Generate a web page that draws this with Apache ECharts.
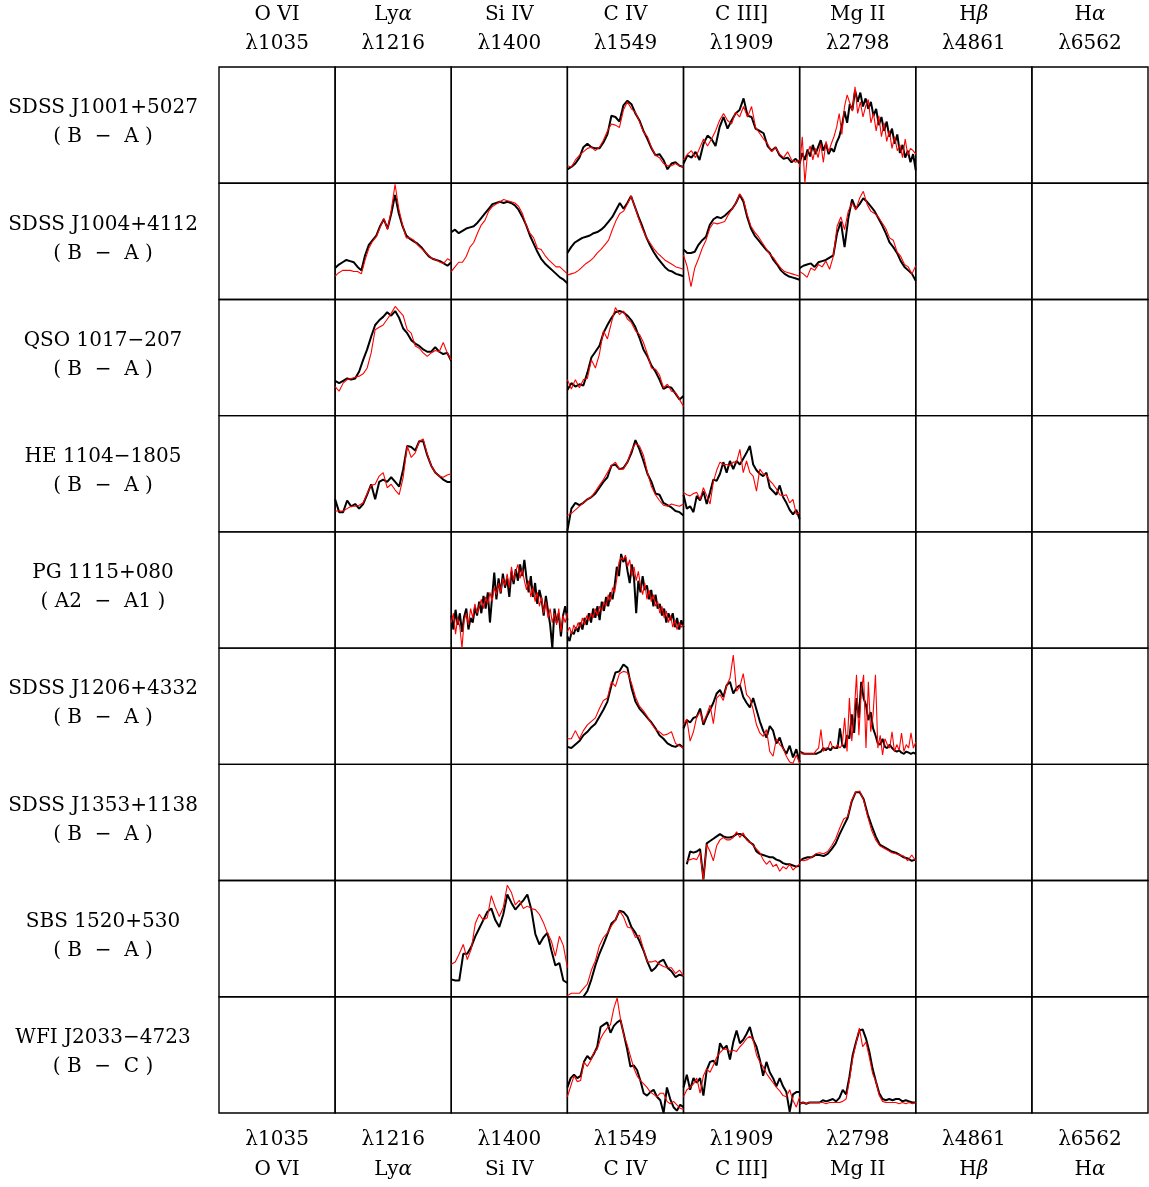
<!DOCTYPE html>
<html>
<head>
<meta charset="utf-8">
<title>Line profiles of lensed quasar images</title>
<script src="https://cdn.jsdelivr.net/npm/echarts@6/dist/echarts.min.js"></script>
<style>
html, body { margin: 0; padding: 0; background: #fff; }
#box { width: 1149px; height: 1187px; }
</style>
</head>
<body>
<div id="box"></div>
<script>
// columns: emission lines
var lineNames = ['O VI', 'Ly{g|α}', 'Si IV', 'C IV', 'C III]', 'Mg II', 'H{g|β}', 'H{g|α}'];
var lineWaves = ['λ1035', 'λ1216', 'λ1400', 'λ1549', 'λ1909', 'λ2798', 'λ4861', 'λ6562'];
// rows: lens systems and image pairs
var objects = ['SDSS J1001+5027', 'SDSS J1004+4112', 'QSO 1017−207', 'HE 1104−1805', 'PG 1115+080',
  'SDSS J1206+4332', 'SDSS J1353+1138', 'SBS 1520+530', 'WFI J2033−4723'];
var pairs = ['( B  −  A )', '( B  −  A )', '( B  −  A )', '( B  −  A )', '( A2  −  A1 )',
  '( B  −  A )', '( B  −  A )', '( B  −  A )', '( B  −  C )'];

// line profiles, flux as % of panel height (b = first image, r = second image)
var j1001_civ_b = [12,14,17,22,31,34,31,30,30,35,42,58,57,53,67,71,68,60,54,45,38,30,24,25,20,12,17,18,15,14];
var j1001_civ_r = [15,14,20,24,27,30,31,28,31,37,45,51,50,48,63,70,64,61,53,44,40,31,24,22,17,15,15,17,15,14];
var j1001_ciii_b = [17,24,22,27,20,34,41,38,32,48,57,47,54,60,63,73,58,57,47,45,43,32,28,31,24,21,22,18,21,17];
var j1001_ciii_r = [20,25,28,22,30,38,32,38,45,54,60,54,51,61,57,66,57,66,48,43,38,34,27,31,25,22,27,20,18,20];
var j1001_mgii_b = [17,26,20,29,23,33,25,31,37,28,34,25,30,27,35,40,49,62,52,68,63,80,70,78,66,73,64,70,58,64,50,57,45,53,40,47,34,42,26,33,22,28,18,25,11];
var j1001_mgii_r = [14,40,0,26,32,20,30,22,34,18,36,27,34,40,48,60,42,66,76,69,62,83,60,70,57,66,72,52,60,45,58,40,52,36,45,30,40,28,33,22,38,24,30,28,25];

var j1004_lya_b = [27,30,32,34,33,32,28,25,38,47,51,55,63,69,61,74,90,74,63,55,52,50,48,45,41,37,35,34,33,31,29,32];
var j1004_lya_r = [20,23,25,25,25,24,24,22,34,44,50,54,62,70,60,77,99,78,64,53,53,51,47,44,41,38,35,34,32,31,35,33];
var j1004_siiv_b = [58,60,57,59,61,62,63,66,70,74,78,82,83,84,83,84,83,81,77,71,64,55,48,41,35,31,28,25,22,19,17,14];
var j1004_siiv_r = [24,28,32,32,37,45,49,57,64,68,76,80,82,84,86,85,84,83,80,74,64,57,53,44,43,38,34,31,28,28,25,22];
var j1004_civ_b = [40,45,49,51,53,54,55,57,58,60,63,67,71,77,83,78,83,89,80,71,63,54,47,41,36,32,28,25,24,22,21,20];
var j1004_civ_r = [21,22,23,25,28,31,33,36,40,43,47,51,60,68,74,76,82,89,80,70,61,54,49,44,40,37,34,32,30,28,27,26];
var j1004_ciii_b = [43,40,40,41,47,51,54,64,69,71,70,72,75,78,83,90,84,71,61,55,51,47,43,40,34,30,25,22,20,19,18,17];
var j1004_ciii_r = [38,28,11,27,35,44,51,61,66,65,66,67,73,78,83,91,86,73,63,58,54,49,44,39,36,31,27,24,23,22,21,20];
var j1004_mgii_b = [27,29,30,31,28,32,33,34,36,38,57,67,45,70,86,78,82,87,84,80,76,70,64,57,49,45,40,33,28,25,22,16];
var j1004_mgii_r = [24,22,19,27,25,30,28,33,26,37,63,71,60,76,83,77,87,93,82,76,74,71,66,61,53,51,41,37,30,28,22,29];

var q1017_lya_b = [30,28,30,32,31,32,38,48,57,68,78,82,85,89,86,90,84,75,71,65,62,60,57,55,55,59,55,53,54,47];
var q1017_lya_r = [25,21,28,31,32,33,34,36,41,54,74,76,78,83,88,94,90,86,74,71,60,58,54,51,54,56,55,63,54,48];
var q1017_civ_b = [22,28,25,27,26,37,50,55,60,71,78,84,89,90,89,86,82,76,67,57,51,43,38,31,23,25,24,19,14,17];
var q1017_civ_r = [31,23,31,24,31,32,48,41,53,73,66,80,93,87,90,83,80,73,70,63,53,41,40,35,24,27,21,20,14,8];

var he1104_lya_b = [28,17,17,27,22,24,20,24,32,41,28,43,45,43,47,43,39,54,74,73,70,78,78,66,57,51,48,45,43,43];
var he1104_lya_r = [18,18,18,20,22,22,23,25,33,40,41,48,51,38,41,36,32,47,74,64,68,78,80,67,57,51,48,47,49,50];
var he1104_civ_b = [1,20,25,23,25,28,30,33,38,43,47,57,58,54,55,60,68,79,71,61,50,43,33,32,25,23,21,18,17,14];
var he1104_civ_r = [14,16,19,22,25,28,30,35,40,45,51,57,60,54,54,60,70,76,74,66,51,39,32,27,23,22,24,23,22,24];
var he1104_ciii_b = [32,20,22,17,31,27,35,24,34,45,44,50,60,51,61,54,61,58,63,68,74,58,53,50,48,51,38,35,32,40,30,25,19,15,19,11];
var he1104_ciii_r = [34,32,31,33,34,28,38,31,24,43,53,60,58,58,57,60,60,71,51,61,51,48,35,54,50,49,44,41,37,32,31,32,25,28,15,17];

var pg1115_siiv_b = [28,16,33,20,30,14,27,34,16,26,22,35,28,40,30,45,34,48,22,44,65,42,60,47,64,52,60,44,66,55,68,58,72,62,76,60,48,62,44,56,38,50,42,28,45,32,20,0,34,22,30,10,28,36,24];
var pg1115_siiv_r = [22,30,12,26,18,0,24,30,20,34,26,38,30,36,42,34,44,38,48,40,52,46,56,48,60,54,64,52,70,58,66,72,60,68,58,50,58,44,52,40,48,36,44,30,40,26,34,22,30,20,34,14,28,22,30];
var pg1115_civ_b = [10,6,14,12,18,14,22,16,26,20,30,22,34,26,36,24,40,32,44,36,48,42,54,70,62,81,74,78,66,56,72,60,30,58,48,62,50,54,42,50,36,46,34,38,28,34,22,30,24,30,18,26,16,24,18];
var pg1115_civ_r = [14,18,12,20,16,22,18,26,20,28,24,30,26,34,28,36,32,40,36,46,40,52,48,60,74,78,76,80,70,76,62,70,58,66,54,46,56,42,50,40,46,36,40,30,36,26,32,22,28,18,24,16,22,18,20];

var j1206_civ_b = [15,14,17,20,25,28,32,35,41,47,54,68,79,80,86,83,66,54,48,44,40,36,31,25,22,18,16,15,17,14];
var j1206_civ_r = [22,22,29,22,29,34,37,40,48,55,57,71,67,78,80,79,70,58,50,46,41,35,30,28,25,26,28,18,16,14];
var j1206_ciii_b = [31,38,36,40,41,48,34,41,47,53,61,64,58,68,71,61,66,68,58,53,49,57,47,37,29,23,33,29,18,23,14,9,16,6,13,2];
var j1206_ciii_r = [34,39,20,28,41,45,36,43,51,35,57,60,55,68,74,94,63,67,78,60,57,47,34,27,24,30,11,7,22,17,14,7,2,1,8,1];
var j1206_mgii_b = [11,10,9,9,9,9,9,9,10,11,14,12,14,12,15,14,14,31,17,14,25,22,43,27,57,40,71,57,51,38,45,31,25,18,17,22,15,14,17,14,12,11,12,10,9,11,10,9,10,9];
var j1206_mgii_r = [11,9,9,9,9,9,9,12,14,30,11,14,14,20,14,14,17,14,17,40,11,57,20,43,77,25,63,77,14,71,28,43,77,14,25,8,22,17,14,28,11,17,12,27,11,17,14,27,14,19];

var j1353_ciii_b = [null,14,25,24,25,27,1,32,34,36,38,40,38,37,37,38,40,40,39,36,33,31,25,23,22,21,20,20,18,17,15,14,14,13,12,13];
var j1353_ciii_r = [null,17,18,19,18,24,1,31,25,17,30,35,37,35,35,37,42,37,41,35,33,30,27,24,18,14,17,12,14,8,12,10,14,9,12,14];
var j1353_mgii_b = [17,19,20,20,22,22,21,23,27,32,40,47,54,68,76,76,70,57,47,38,31,29,27,25,24,22,20,19,17,18];
var j1353_mgii_r = [18,17,18,20,23,24,23,25,30,36,45,53,55,69,76,77,69,55,43,35,30,28,26,24,23,22,21,17,22,17];

var sbs1520_siiv_b = [15,14,14,37,37,43,52,59,66,73,76,66,60,71,88,81,75,79,83,88,75,54,45,51,55,40,27,29,14,12];
var sbs1520_siiv_r = [28,30,37,45,32,41,63,71,66,68,87,77,69,77,96,90,79,83,76,78,76,75,71,64,55,48,35,52,44,25];
var sbs1520_civ_b = [null,null,null,null,0,5,15,27,37,45,54,63,66,74,73,69,60,55,48,40,30,22,25,30,32,25,22,17,19,18];
var sbs1520_civ_r = [1,3,3,3,7,11,23,31,44,51,55,61,66,74,69,60,59,51,53,41,30,30,31,28,26,25,25,20,23,18];

var wfi2033_civ_b = [22,30,33,30,32,44,49,46,51,57,74,76,78,69,75,78,80,68,55,40,41,37,28,17,15,18,20,14,11,0,22,12,5,2,7,5];
var wfi2033_civ_r = [14,23,32,27,28,44,40,45,52,55,64,69,73,76,90,99,81,67,59,49,39,32,28,25,22,18,16,14,17,17,10,8,10,7,4,3];
var wfi2033_ciii_b = [22,33,20,30,26,30,15,37,44,45,41,60,55,58,46,61,71,60,63,68,74,63,57,46,32,44,35,30,23,30,23,18,1,16,18,18];
var wfi2033_ciii_r = [14,20,22,25,30,17,32,38,35,41,48,52,55,55,53,54,53,57,60,64,66,63,50,44,40,34,30,26,22,19,15,14,20,11,5,14];
var wfi2033_mgii_b = [8,9,8,9,9,9,9,11,10,11,12,10,13,20,16,31,50,61,71,72,64,53,38,27,17,12,11,12,11,12,12,10,11,10,9,9];
var wfi2033_mgii_r = [8,9,8,9,9,9,9,9,8,9,9,9,9,10,12,28,47,60,73,57,61,48,34,27,15,10,9,9,9,9,8,9,8,9,8,9];

// which cell each pair of profiles belongs to
var panels = [
  { row: 0, col: 3, b: j1001_civ_b, r: j1001_civ_r },
  { row: 0, col: 4, b: j1001_ciii_b, r: j1001_ciii_r },
  { row: 0, col: 5, b: j1001_mgii_b, r: j1001_mgii_r },
  { row: 1, col: 1, b: j1004_lya_b, r: j1004_lya_r },
  { row: 1, col: 2, b: j1004_siiv_b, r: j1004_siiv_r },
  { row: 1, col: 3, b: j1004_civ_b, r: j1004_civ_r },
  { row: 1, col: 4, b: j1004_ciii_b, r: j1004_ciii_r },
  { row: 1, col: 5, b: j1004_mgii_b, r: j1004_mgii_r },
  { row: 2, col: 1, b: q1017_lya_b, r: q1017_lya_r },
  { row: 2, col: 3, b: q1017_civ_b, r: q1017_civ_r },
  { row: 3, col: 1, b: he1104_lya_b, r: he1104_lya_r },
  { row: 3, col: 3, b: he1104_civ_b, r: he1104_civ_r },
  { row: 3, col: 4, b: he1104_ciii_b, r: he1104_ciii_r },
  { row: 4, col: 2, b: pg1115_siiv_b, r: pg1115_siiv_r },
  { row: 4, col: 3, b: pg1115_civ_b, r: pg1115_civ_r },
  { row: 5, col: 3, b: j1206_civ_b, r: j1206_civ_r },
  { row: 5, col: 4, b: j1206_ciii_b, r: j1206_ciii_r },
  { row: 5, col: 5, b: j1206_mgii_b, r: j1206_mgii_r },
  { row: 6, col: 4, b: j1353_ciii_b, r: j1353_ciii_r },
  { row: 6, col: 5, b: j1353_mgii_b, r: j1353_mgii_r },
  { row: 7, col: 2, b: sbs1520_siiv_b, r: sbs1520_siiv_r },
  { row: 7, col: 3, b: sbs1520_civ_b, r: sbs1520_civ_r },
  { row: 8, col: 3, b: wfi2033_civ_b, r: wfi2033_civ_r },
  { row: 8, col: 4, b: wfi2033_ciii_b, r: wfi2033_ciii_r },
  { row: 8, col: 5, b: wfi2033_mgii_b, r: wfi2033_mgii_r }
];

var left0 = 219, top0 = 67;
var cellW = 929 / lineNames.length, cellH = 1046 / objects.length;

var grid = [], xAxis = [], yAxis = [], series = [], graphic = [];

for (var r = 0; r < objects.length; r++) {
  for (var c = 0; c < lineNames.length; c++) {
    var i = r * lineNames.length + c;
    grid.push({
      left: left0 + c * cellW, top: top0 + r * cellH, width: cellW, height: cellH,
      show: true, borderColor: '#000', borderWidth: 1.4, backgroundColor: 'transparent'
    });
    xAxis.push({ type: 'value', gridIndex: i, min: 0, max: 1, show: false });
    yAxis.push({ type: 'value', gridIndex: i, min: 0, max: 100, show: false });
  }
}

function profile (idx, values, color, width) {
  return {
    type: 'line',
    xAxisIndex: idx,
    yAxisIndex: idx,
    data: values.map(function (v, k) { return [k, v === null ? '-' : v]; }),
    symbol: 'none',
    silent: true,
    clip: true,
    lineStyle: { color: color, width: width },
    emphasis: { disabled: true }
  };
}

panels.forEach(function (p) {
  var idx = p.row * lineNames.length + p.col;
  xAxis[idx].max = p.b.length - 1;
  series.push(profile(idx, p.b, '#000', 2));
  series.push(profile(idx, p.r, '#ff0000', 1.1));
});

function label (x, y, s) {
  return {
    type: 'text', x: x, y: y, silent: true,
    style: {
      text: s, fill: '#000', fontSize: 20, fontFamily: 'DejaVu Serif',
      align: 'center', verticalAlign: 'middle',
      rich: { g: { fontSize: 20, fontFamily: 'DejaVu Serif', fontStyle: 'italic' } }
    }
  };
}

lineNames.forEach(function (n, c) {
  var x = left0 + (c + 0.5) * cellW;
  graphic.push(label(x, 15, n), label(x, 44, lineWaves[c]));
  graphic.push(label(x, 1140, lineWaves[c]), label(x, 1170, n));
});
objects.forEach(function (o, r) {
  var y = top0 + (r + 0.5) * cellH;
  graphic.push(label(103, y - 17, o), label(103, y + 12, pairs[r]));
});

var chart = echarts.init(document.getElementById('box'));
chart.setOption({
  backgroundColor: '#fff',
  animation: false,
  grid: grid,
  xAxis: xAxis,
  yAxis: yAxis,
  series: series,
  graphic: graphic
});
</script>
</body>
</html>
